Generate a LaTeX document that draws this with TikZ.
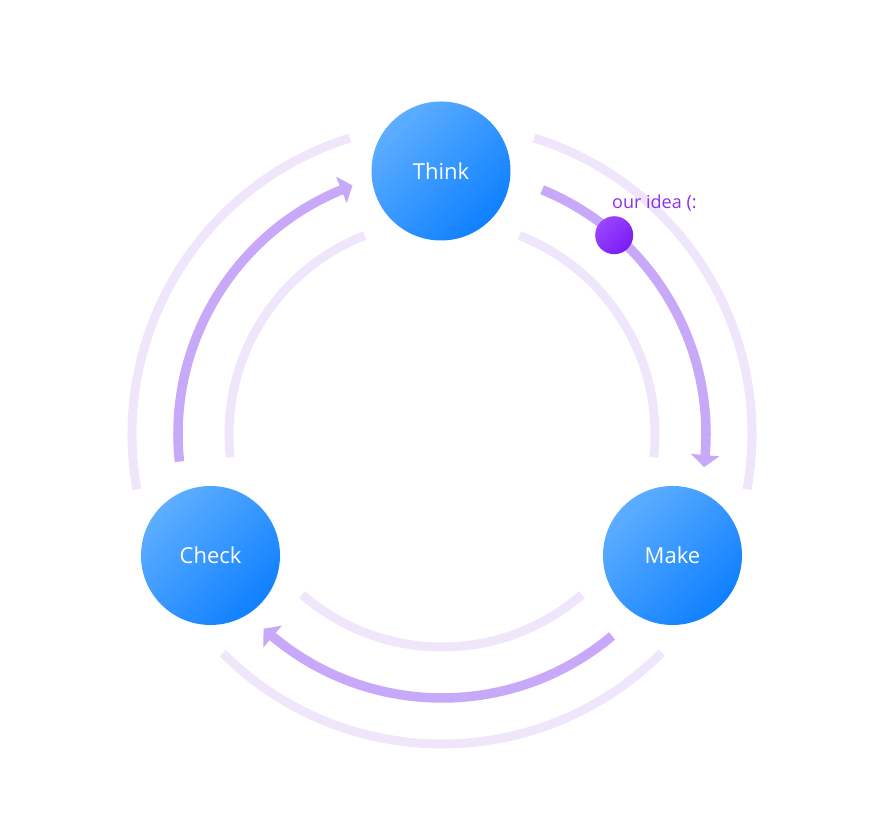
\documentclass[tikz,border=0pt]{standalone}
\usepackage{fontspec}
\setmainfont{Open Sans}
\usetikzlibrary{arrows.meta,bending}
\definecolor{ringlight}{HTML}{F0E6FC}
\definecolor{ringarrow}{HTML}{C8A8F8}
\definecolor{bluelight}{HTML}{5EAEFF}
\definecolor{bluedark}{HTML}{0F80FF}
\definecolor{dotlight}{HTML}{9A45FF}
\definecolor{dotdark}{HTML}{7A1CF2}
\definecolor{ideatext}{HTML}{8A30EE}
\begin{document}
\begin{tikzpicture}[x=1pt,y=1pt,
  stage/.style={circle, minimum size=139pt, inner sep=0pt, top color=bluelight, bottom color=bluedark, shading angle=45, text=white, font=\fontsize{22}{26}\selectfont},
  ring/.style={draw=ringlight, line width=9pt},
  flow/.style={draw=ringarrow, line width=9.5pt, -{Triangle[length=12pt,width=28pt,bend]}},
]
\useasboundingbox (0,0) rectangle (884,816);
\coordinate (c) at (442,382);
% outer light ring
\draw[ring] ([shift={(107.3:310)}]c) arc[start angle=107.3, end angle=190.3, radius=310];
\draw[ring] ([shift={(225:310)}]c) arc[start angle=225, end angle=315.1, radius=310];
\draw[ring] ([shift={(-10.3:310)}]c) arc[start angle=-10.3, end angle=72.7, radius=310];
% inner light ring
\draw[ring] ([shift={(111.3:213)}]c) arc[start angle=111.3, end angle=186.3, radius=213];
\draw[ring] ([shift={(228.9:213)}]c) arc[start angle=228.9, end angle=311.1, radius=213];
\draw[ring] ([shift={(-6.3:213)}]c) arc[start angle=-6.3, end angle=68.7, radius=213];
% arrows
\draw[flow] ([shift={(67.7:264)}]c) arc[start angle=67.7, end angle=-7.2, radius=264];
\draw[flow] ([shift={(-49.9:264)}]c) arc[start angle=-49.9, end angle=-132.5, radius=264];
\draw[flow] ([shift={(186:264)}]c) arc[start angle=186, end angle=109.8, radius=264];
% stages
\node[stage] (think) at (441,645) {Think};
\node[stage] (make) at (672.5,260.5) {Make};
\node[stage] (check) at (210.5,260.5) {Check};
% idea marker
\node[circle, minimum size=38pt, inner sep=0pt, top color=dotlight, bottom color=dotdark, shading angle=45] (dot) at ([shift={(49.1:263)}]c) {};
\node[anchor=base west, text=ideatext, font=\fontsize{18}{21}\selectfont, inner sep=0pt] (idea) at (612,607) {our idea (:};
\end{tikzpicture}
\end{document}
